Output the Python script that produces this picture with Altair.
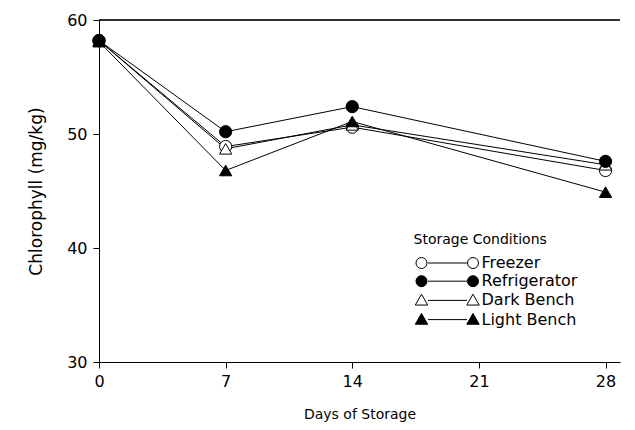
import altair as alt
import pandas as pd

days = [0, 7, 14, 21, 28]
series_names = ["Freezer", "Refrigerator", "Dark Bench", "Light Bench"]
day_points = [0, 7, 14, 28]
freezer = [58.2, 48.9, 50.6, 46.8]
refrigerator = [58.2, 50.2, 52.4, 47.6]
dark_bench = [58.2, 48.7, 50.8, 47.3]
light_bench = [58.1, 46.8, 51.1, 44.9]
y_ticks = [30, 40, 50, 60]

# drawing order: freezer, dark bench, light bench, refrigerator
draw_order = [("Freezer", freezer), ("Dark Bench", dark_bench),
              ("Light Bench", light_bench), ("Refrigerator", refrigerator)]
rows = []
for name, vals in draw_order:
    for d, v in zip(day_points, vals):
        rows.append({"day": d, "value": v, "series": name})
df = pd.DataFrame(rows)

FONT = "DejaVu Sans"
shapes = ["circle", "circle", "triangle-up", "triangle-up"]
fills = ["white", "black", "white", "black"]


def circ(cx, r):
    return (f"M{cx - r:.3f},0 A{r:.3f},{r:.3f} 0 1,0 {cx + r:.3f},0 "
            f"A{r:.3f},{r:.3f} 0 1,0 {cx - r:.3f},0 Z")


def tri(cx, h):
    return (f"M{cx - h:.3f},{0.75 * h:.3f} L{cx:.3f},{-h:.3f} "
            f"L{cx + h:.3f},{0.75 * h:.3f} Z")


u = 7.0  # px per path unit (symbolSize 196)
line_seg = f"M{6.5 / u:.3f},0 L{45.5 / u:.3f},0"
c_path = circ(0, 5.5 / u) + " " + line_seg + " " + circ(51.5 / u, 5.5 / u)
t_path = tri(0, 6.2 / u) + " " + line_seg + " " + tri(51.5 / u, 6.2 / u)
legend_shapes = [c_path, c_path, t_path, t_path]

x_scale = alt.Scale(domain=[0, 28.8], nice=False, zero=False)
y_scale = alt.Scale(domain=[30, 60], nice=False, zero=False)

x_enc = alt.X("day:Q", scale=x_scale,
              axis=alt.Axis(values=days, title="Days of Storage", grid=False,
                            labelFont=FONT, labelFontSize=16, labelColor="black",
                            titleFont=FONT, titleFontSize=14, titleFontWeight="normal",
                            titleColor="black", titlePadding=18, tickSize=6,
                            labelPadding=5, domainColor="black", tickColor="black",
                            labelFlush=False))
y_enc = alt.Y("value:Q", scale=y_scale,
              axis=alt.Axis(values=y_ticks, title="Chlorophyll (mg/kg)", grid=False,
                            labelFont=FONT, labelFontSize=16, labelColor="black",
                            titleFont=FONT, titleFontSize=17, titleFontWeight="normal",
                            titleColor="black", titlePadding=21, tickSize=6,
                            labelPadding=6, domainColor="black", tickColor="black"))

lines = alt.Chart(df).mark_line(color="black", strokeWidth=1).encode(
    x=x_enc, y=y_enc, detail="series:N", order="day:Q")

points = alt.Chart(df).mark_point(filled=True, stroke="black", strokeWidth=1,
                                  size=150, opacity=1).encode(
    x=alt.X("day:Q", scale=x_scale), y=alt.Y("value:Q", scale=y_scale),
    shape=alt.Shape("series:N", scale=alt.Scale(domain=series_names, range=shapes), legend=None),
    fill=alt.Fill("series:N", scale=alt.Scale(domain=series_names, range=fills), legend=None),
)

leg = alt.Legend(title="Storage Conditions", orient="none", legendX=314.5, legendY=213,
                 titleFont=FONT, titleFontSize=14, titleFontWeight="normal", titleColor="black",
                 titlePadding=8, labelFont=FONT, labelFontSize=16, labelColor="black",
                 labelOffset=52, symbolSize=196, symbolStrokeWidth=1,
                 rowPadding=2.2, padding=0)

legend_layer = alt.Chart(df).transform_filter("false").mark_point(
    filled=False, strokeWidth=1, opacity=1).encode(
    x=alt.X("day:Q", scale=x_scale), y=alt.Y("value:Q", scale=y_scale),
    shape=alt.Shape("series:N", scale=alt.Scale(domain=series_names, range=legend_shapes),
                    legend=leg),
    fill=alt.Fill("series:N", scale=alt.Scale(domain=series_names, range=fills), legend=leg),
    stroke=alt.Stroke("series:N", scale=alt.Scale(domain=series_names, range=["black"] * 4),
                      legend=leg),
)

top_line = alt.Chart(df).mark_rule(color="#333333", strokeWidth=1).encode(
    y=alt.YDatum(60, scale=y_scale))

chart = alt.layer(top_line, lines, points, legend_layer).resolve_scale(
    shape="independent", fill="independent", stroke="independent"
).properties(
    width=521, height=342,
    autosize=alt.AutoSizeParams(type="none"),
    padding={"left": 91, "top": 12, "right": 7, "bottom": 60},
    background="white",
).configure_view(stroke=None)

chart.save("out.html", embed_options={"renderer": "svg", "actions": False})
